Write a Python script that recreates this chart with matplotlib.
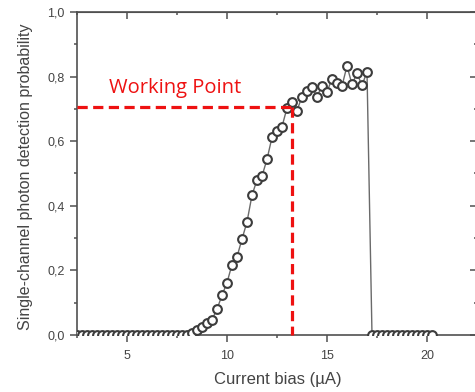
import numpy as np
import matplotlib.pyplot as plt
from matplotlib.ticker import MultipleLocator, FuncFormatter

# bias current (uA) and detection probability
bias = [2.5, 2.75, 3.0, 3.25, 3.5, 3.75, 4.0, 4.25, 4.5, 4.75, 5.0, 5.25,
        5.5, 5.75, 6.0, 6.25, 6.5, 6.75, 7.0, 7.25, 7.5, 7.75, 8.0,
        8.25, 8.5, 8.75, 9.0, 9.25, 9.5, 9.75, 10.0, 10.25, 10.5, 10.75,
        11.0, 11.25, 11.5, 11.75, 12.0, 12.25, 12.5, 12.75, 13.0, 13.25,
        13.5, 13.75, 14.0, 14.25, 14.5, 14.75, 15.0, 15.25, 15.5, 15.75,
        16.0, 16.25, 16.5, 16.75, 17.0,
        17.25, 17.5, 17.75, 18.0, 18.25, 18.5, 18.75, 19.0, 19.25, 19.5,
        19.75, 20.0, 20.25]
prob = [0, 0, 0, 0, 0, 0, 0, 0, 0, 0, 0, 0,
        0, 0, 0, 0, 0, 0, 0, 0, 0, 0, 0,
        0.007, 0.015, 0.025, 0.036, 0.047, 0.080, 0.123, 0.162, 0.218, 0.242, 0.297,
        0.350, 0.433, 0.480, 0.492, 0.544, 0.612, 0.633, 0.645, 0.703, 0.720,
        0.695, 0.738, 0.755, 0.767, 0.738, 0.771, 0.753, 0.793, 0.781, 0.771,
        0.833, 0.776, 0.810, 0.773, 0.815,
        0, 0, 0, 0, 0, 0, 0, 0, 0, 0,
        0, 0, 0]

wp_bias = 13.27
wp_prob = 0.705

grey = '#505050'
plt.rcParams['font.family'] = ['Liberation Sans', 'DejaVu Sans']

fig = plt.figure(figsize=(4.75, 3.92), dpi=100)
ax = fig.add_axes([77 / 475, 57 / 392, 400 / 475, 323 / 392])

ax.plot(bias, prob, '-', color='#6a6a6a', lw=1.0, zorder=2)
ax.plot(bias, prob, 'o', ms=6.3, mfc='white', mec='#3c3c3c', mew=1.5, zorder=3)

# working point guides
ax.plot([2.5, wp_bias], [wp_prob, wp_prob], color='#ee1111', lw=2.3,
        dashes=(3.2, 1.7), zorder=4)
ax.plot([wp_bias, wp_bias], [wp_prob, 0], color='#ee1111', lw=2.3,
        dashes=(3.2, 1.7), zorder=4, clip_on=False)
ax.text(4.1, 0.749, 'Working Point', color='#ee1111', fontsize=14.5,
        family=['Open Sans', 'DejaVu Sans'], ha='left', va='baseline')

ax.set_xlim(2.5, 22.5)
ax.set_ylim(0, 1.0)
ax.xaxis.set_major_locator(MultipleLocator(5))
ax.xaxis.set_minor_locator(MultipleLocator(2.5))
ax.yaxis.set_major_locator(MultipleLocator(0.2))
ax.yaxis.set_minor_locator(MultipleLocator(0.1))
ax.yaxis.set_major_formatter(FuncFormatter(lambda v, p: f'{v:.1f}'.replace('.', ',')))

for s in ax.spines.values():
    s.set_color(grey)
    s.set_linewidth(1.2)

ax.tick_params(which='both', direction='out', colors=grey, labelsize=9,
               width=1.1, top=False, right=False)
ax.tick_params(which='major', length=5, pad=4)
ax.tick_params(which='minor', length=2.5)
ax.tick_params(axis='x', which='major', pad=6)
for lbl in ax.get_xticklabels() + ax.get_yticklabels():
    lbl.set_color('#444444')

top = ax.secondary_xaxis('top')
top.xaxis.set_major_locator(MultipleLocator(5))
top.xaxis.set_minor_locator(MultipleLocator(2.5))
top.tick_params(which='both', direction='in', colors=grey, width=1.1, labeltop=False)
top.tick_params(which='major', length=5)
top.tick_params(which='minor', length=2.5)
top.spines['top'].set_color(grey)

right = ax.secondary_yaxis('right')
right.yaxis.set_major_locator(MultipleLocator(0.2))
right.yaxis.set_minor_locator(MultipleLocator(0.1))
right.tick_params(which='both', direction='in', colors=grey, width=1.1, labelright=False)
right.tick_params(which='major', length=5)
right.tick_params(which='minor', length=2.5)

ax.set_xlabel('Current bias (\u00b5A)', fontsize=12, color='#444444')
ax.set_ylabel('Single-channel photon detection probability', fontsize=11.5, color='#444444')
ax.xaxis.set_label_coords(0.5025, -0.115)
ax.yaxis.set_label_coords(-0.11, 0.49)

fig.savefig('out.png', dpi=100)
